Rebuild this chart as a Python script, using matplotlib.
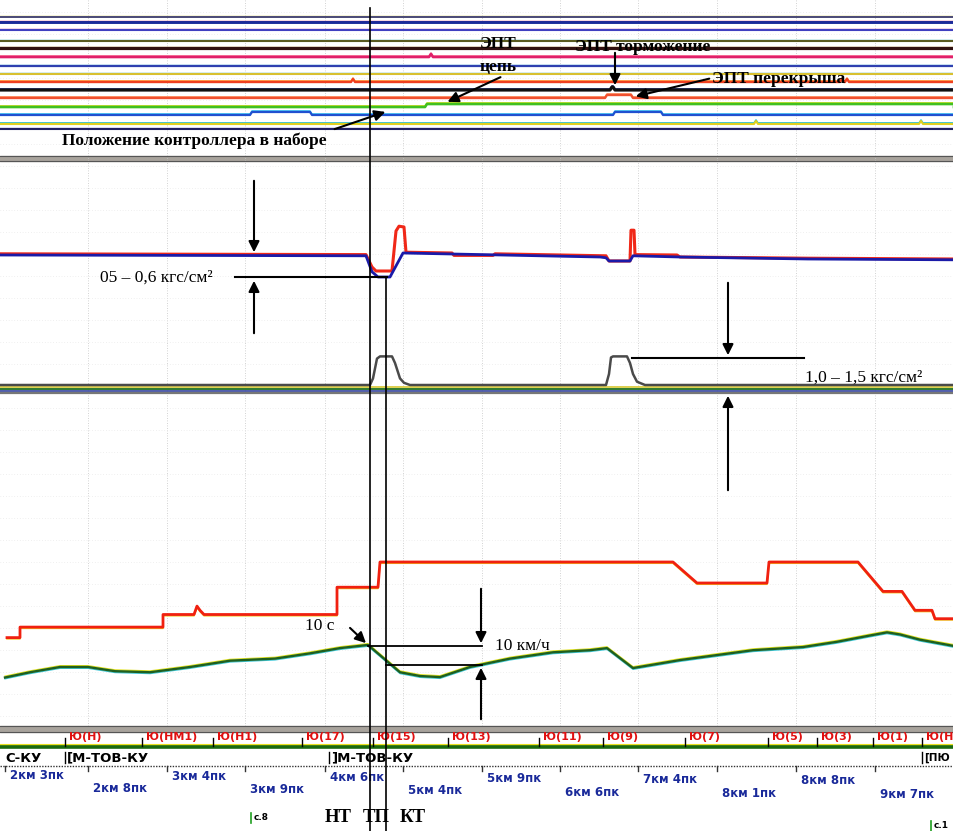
import matplotlib.pyplot as plt
from matplotlib.transforms import offset_copy

W, H = 954, 831

# brake line pressure (blue) and equalising reservoir (red), kgf/cm2
tm_t = [0, 366, 372, 378, 390, 403, 600, 606, 609, 630, 633, 680, 808, 954]
tm_p = [5.00, 4.98, 4.58, 4.45, 4.45, 5.05, 4.95, 4.93, 4.85, 4.85, 4.98, 4.95, 4.90, 4.88]
ur_t = [0, 366, 372, 376, 392, 396, 399, 404, 406, 452, 454, 493, 495, 606, 609,
        630, 631, 634, 635, 677, 680, 808, 954]
ur_p = [5.01, 4.99, 4.68, 4.58, 4.58, 5.58, 5.70, 5.68, 5.05, 5.03, 4.97, 4.97, 5.01, 4.96, 4.83,
        4.83, 5.60, 5.60, 4.99, 4.98, 4.93, 4.90, 4.88]

# brake cylinder pressure, kgf/cm2
tc_t = [0, 370, 373, 377, 380, 392, 395, 400, 404, 410, 606, 609, 611, 613, 627, 630, 633, 637, 645, 954]
tc_p = [0, 0, 0.3, 1.2, 1.3, 1.3, 1.0, 0.3, 0.1, 0, 0, 0.5, 1.25, 1.3, 1.3, 1.0, 0.5, 0.15, 0, 0]

# actual speed and permitted speed, km/h
speed_t = [5, 30, 60, 88, 115, 150, 190, 230, 275, 310, 340, 368, 400, 420, 440, 470, 510,
           553, 590, 607, 633, 680, 753, 803, 837, 870, 887, 900, 920, 954]
speed_v = [25, 27.5, 30, 30, 28, 27.5, 30, 33, 34, 36.5, 39, 40.5, 27.5, 25.7, 25.2, 30, 34,
           37, 38, 39, 29.5, 33.3, 38, 39.5, 42, 45, 46.5, 45.5, 43, 40]
limit_t = [7, 20, 20, 163, 163, 194, 197, 200, 204, 337, 337, 378, 380, 673, 697, 767, 769,
           858, 883, 902, 915, 932, 935, 954]
limit_v = [44, 44, 49, 49, 55, 55, 59, 57, 55, 55, 68, 68, 80, 80, 70, 70, 80,
           80, 66, 66, 57, 57, 53, 53]

# discrete channels: row, line colour, fringe colour, width, "on" intervals
channels = [
    (17, "#4a4a78", "#d8c840", 1.4, []),
    (22, "#1a2a9a", "#d03070", 2.1, []),
    (30, "#4040c0", "#e040a0", 1.5, []),
    (41, "#5a5a20", "#30c0d0", 1.5, []),
    (48, "#301010", "#c08020", 2.3, []),
    (57, "#e0206a", "#ff80a0", 1.9, [(429, 431)]),
    (66, "#3040b0", "#40c0e0", 1.6, []),
    (74, "#d8c030", "#30b0d0", 1.5, []),
    (82, "#f04020", "#ffa040", 1.7, [(351, 353), (840, 842), (845, 847)]),
    (90, "#101010", "#3040a0", 2.3, [(610, 613)]),
    (98, "#f05030", "#ff9060", 1.7, [(605, 631)]),
    (107, "#40c020", "#e0e020", 1.9, [(425, 980)]),
    (115, "#2050d0", "#40c0f0", 1.6, [(250, 310), (613, 661)]),
    (124, "#e0d020", "#30c0d0", 1.5, [(754, 756), (919, 921)]),
    (129, "#202060", "#8080c0", 1.5, []),
]

# track: signals and kilometre/picket marks
signal_t = [65, 142, 213, 302, 373, 448, 539, 603, 685, 768, 817, 873, 922]
signal_labels = ["Ю(Н)", "Ю(НМ1)", "Ю(Н1)", "Ю(17)", "Ю(15)", "Ю(13)", "Ю(11)",
                 "Ю(9)", "Ю(7)", "Ю(5)", "Ю(3)", "Ю(1)", "Ю(Н"]
km_t = [5, 88, 167, 245, 325, 403, 482, 560, 638, 717, 796, 875]
km_labels = ["2км 3пк", "2км 8пк", "3км 4пк", "3км 9пк", "4км 6пк", "5км 4пк",
             "5км 9пк", "6км 6пк", "7км 4пк", "8км 1пк", "8км 8пк", "9км 7пк"]
mode_t = [3, 65, 329, 922]
mode_labels = ["С-КУ", "[М-ТОВ-КУ", "]М-ТОВ-КУ", "[ПЮ"]

fig = plt.figure(figsize=(W / 100, H / 100), dpi=100)
fig.patch.set_facecolor("white")


def px_axes(top, bottom, ylim):
    ax = fig.add_axes([0, 1 - bottom / H, 1, (bottom - top) / H])
    ax.set_xlim(0, W)
    ax.set_ylim(*ylim)
    ax.axis("off")
    ax.patch.set_alpha(0)
    return ax


def shifted(ax, dy):
    return offset_copy(ax.transData, fig=fig, x=0, y=dy, units="dots")


# background: faint grid and panel separators
bg = px_axes(0, H, (H, 0))
for x in km_t[1:]:
    bg.plot([x, x], [0, 727], color="#c4c4c4", lw=0.6, ls=(0, (1, 2)))
for y in range(12, 727, 22):
    bg.plot([0, W], [y, y], color="#e2e2e2", lw=0.5, ls=(0, (1, 3)))
for y0, y1 in [(156, 161), (726, 732)]:
    bg.fill_between([0, W], y0, y1, color="#a8a39c")
    bg.plot([0, W], [y0, y0], color="#555555", lw=0.8)
    bg.plot([0, W], [y1, y1], color="#555555", lw=0.8)
for y, c, lw in [(387, "#d8c830", 1.2), (388.5, "#2e7a2e", 1.4), (390.5, "#3040a0", 1.2),
                 (392.5, "#777777", 1.6)]:
    bg.plot([0, W], [y, y], color=c, lw=lw)

# discrete channels
dig = px_axes(0, 160, (160, 0))
for row, col, fringe, lw, spans in channels:
    xs, ys = [0], [row]
    for a, b in spans:
        xs += [a, a + 2, b, b + 2]
        ys += [row, row - 3, row - 3, row]
    xs.append(W)
    ys.append(row)
    dig.plot(xs, ys, color=fringe, lw=1.0, transform=shifted(dig, 1.2))
    dig.plot(xs, ys, color=col, lw=lw)

# pressures
pr = px_axes(161, 390, (1.625, 7.35))
pr.plot(ur_t, ur_p, color="#f02818", lw=2.2, transform=shifted(pr, 0.8))
pr.plot(tm_t, tm_p, color="#1a1aa8", lw=2.0)
tc = px_axes(161, 390, (-0.227, 10.18))
tc.plot(tc_t, tc_p, color="#4a4a4a", lw=1.8)

# speeds
sp = px_axes(392, 730, (0, 338 / 2.1))
sp.plot(limit_t, limit_v, color="#f0c020", lw=1.2, transform=shifted(sp, -1.2))
sp.plot(limit_t, limit_v, color="#f02010", lw=2.0)
sp.plot(speed_t, speed_v, color="#e0e020", lw=1.0, transform=shifted(sp, 1.3))
sp.plot(speed_t, speed_v, color="#40c8d8", lw=1.0, transform=shifted(sp, -1.3))
sp.plot(speed_t, speed_v, color="#1f5f1f", lw=1.7)

# track strip
tr = px_axes(0, H, (H, 0))
tr.plot([0, W], [744.5, 744.5], color="#e8e020", lw=1.5)
tr.plot([0, W], [747, 747], color="#1a6a10", lw=2.6)
for t, lab in zip(signal_t, signal_labels):
    tr.plot([t, t], [738, 746], color="black", lw=1)
    tr.text(t + 4, 737, lab, color="#e01010", fontsize=8, fontweight="bold",
            ha="left", va="center", family="DejaVu Sans")
for t, lab in zip(mode_t, mode_labels):
    if t > 10:
        tr.plot([t, t], [752, 763], color="black", lw=1)
    size = 9.5 if t < 900 else 7.5
    tr.text(t + 2, 758, lab, color="black", fontsize=size, fontweight="bold",
            ha="left", va="center", family="DejaVu Sans")
tr.plot([0, W], [766, 766], color="#333333", lw=1.0, ls=(0, (1, 1)))
for i, (t, lab) in enumerate(zip(km_t, km_labels)):
    tr.plot([t, t], [766, 771], color="#333333", lw=1)
    tr.text(t + 5, 775 + 7 * t / W + 13 * (i % 2), lab, color="#1a2a9a", fontsize=8.5,
            fontweight="bold", ha="left", va="center", family="DejaVu Sans")
for t, y, lab in [(251, 818, "с.8"), (931, 826, "с.1")]:
    tr.plot([t, t], [y - 5, y + 5], color="#20a020", lw=1.2)
    tr.text(t + 3, y - 1, lab, color="black", fontsize=6.5, fontweight="bold",
            ha="left", va="center", family="DejaVu Sans")

# annotations
an = px_axes(0, H, (H, 0))
an.plot([370, 370], [8, H], color="black", lw=1.2)
an.plot([386, 386], [277, H], color="black", lw=1.2)
an.plot([235, 387], [277, 277], color="black", lw=1.5)
an.plot([632, 804], [358, 358], color="black", lw=1.5)
an.plot([368, 482], [646, 646], color="black", lw=1.3)
an.plot([386, 482], [665, 665], color="black", lw=1.3)

arrow = dict(arrowstyle="-|>", color="black", lw=1.5, mutation_scale=16)
for start, end in [((254, 178), (254, 255)), ((254, 336), (254, 278)),
                   ((728, 280), (728, 358)), ((728, 493), (728, 393)),
                   ((481, 586), (481, 646)), ((481, 722), (481, 665)),
                   ((348, 626), (368, 645)),
                   ((503, 76), (445, 103)), ((615, 50), (615, 88)),
                   ((712, 78), (633, 97)), ((332, 130), (388, 111))]:
    an.annotate("", xy=end, xytext=start, arrowprops=arrow)

serif = "Liberation Serif"
bold = dict(family=serif, fontweight="bold", fontsize=12.5, ha="left", va="center")
an.text(480, 44, "ЭПТ", **bold)
an.text(480, 67, "цепь", **bold)
an.text(575, 47, "ЭПТ торможение", **bold)
an.text(712, 79, "ЭПТ перекрыша", **bold)
an.text(62, 141, "Положение контроллера в наборе", **bold)

plain = dict(family=serif, fontsize=12.5, ha="left", va="center")
an.text(100, 278, "05 – 0,6 кгс/см²", **plain)
an.text(805, 378, "1,0 – 1,5 кгс/см²", **plain)
an.text(305, 626, "10 с", **plain)
an.text(495, 646, "10 км/ч", **plain)
for x, lab in [(325, "НТ"), (363, "ТП"), (400, "КТ")]:
    an.text(x, 817, lab, family=serif, fontsize=13.5, fontweight="bold",
            ha="left", va="center")

fig.savefig("out.png", dpi=100)
